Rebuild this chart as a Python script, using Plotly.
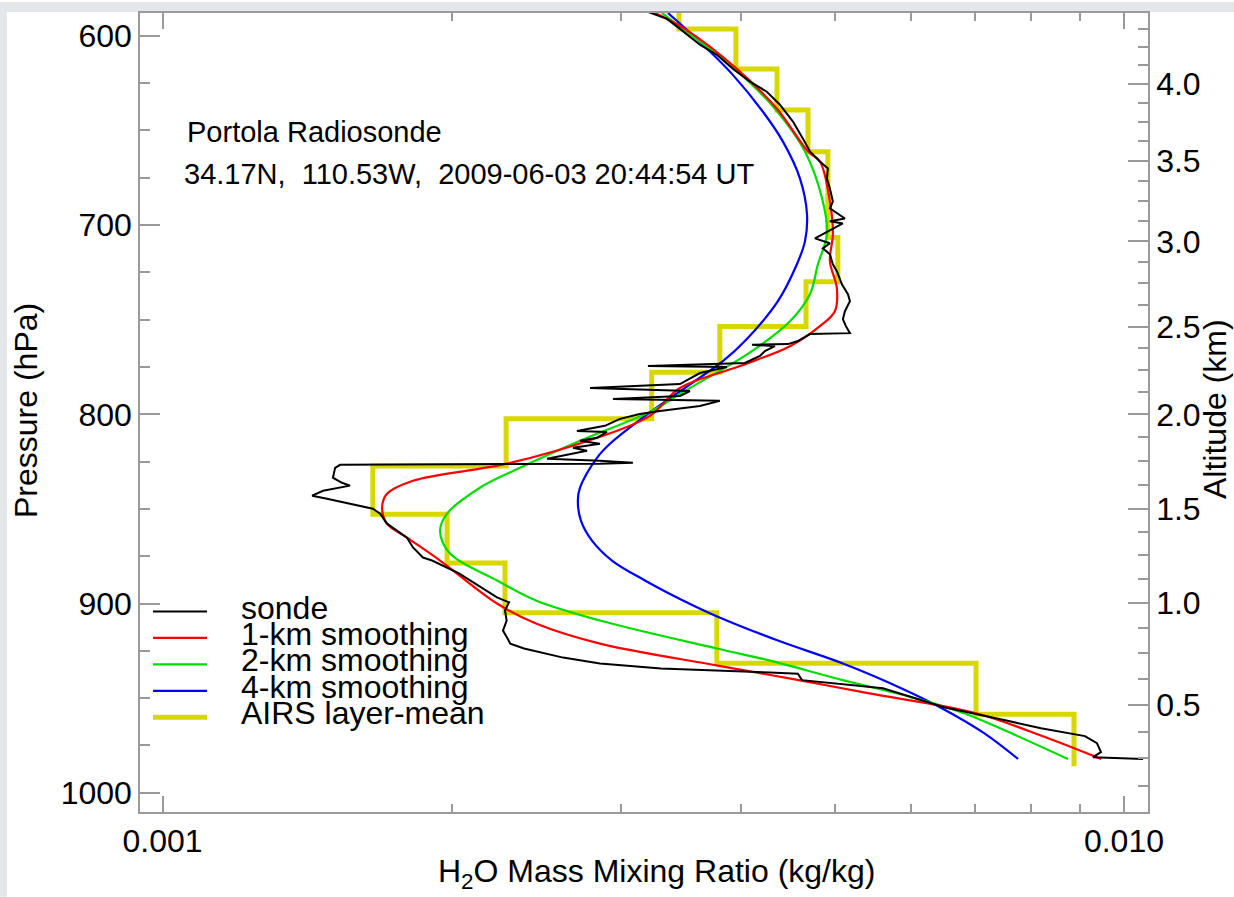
import numpy as np
import plotly.graph_objects as go

FONT = "Liberation Sans, Arial, Helvetica, sans-serif"
AXIS_GRAY = "#9a9a9a"

# ---- Radiosonde profile (pressure in hPa, H2O mass mixing ratio in kg/kg) ----
sonde_p = [587.3, 591.0, 596.3, 600.5, 604.7, 610.0, 617.4, 624.2, 629.5, 636.4,
           645.3, 654.3, 661.1, 666.4, 670.1, 675.4, 680.7, 687.5, 691.2, 696.5,
           698.0, 699.1, 703.3, 707.0, 709.6, 712.3, 715.4, 720.7, 724.4, 731.3,
           736.5, 740.2, 745.5, 749.7, 753.4, 757.1, 757.6, 759.2, 761.3, 762.9,
           763.2, 764.0, 766.6, 769.2, 772.9, 774.5, 775.0, 778.2, 781.3, 784.0,
           786.1, 787.7, 790.3, 791.9, 792.9, 795.6, 798.2, 799.8, 802.4, 806.1,
           808.8, 809.3, 812.4, 814.0, 815.6, 817.7, 819.3, 820.9, 823.5, 824.6,
           825.6, 826.1, 826.7, 828.3, 833.5, 836.2, 837.7, 840.4, 843.0, 844.6,
           847.2, 849.9, 852.5, 857.8, 865.2, 870.4, 875.7, 877.3, 884.1, 896.8,
           899.4, 903.6, 909.0, 914.3, 918.0, 921.2, 923.8, 928.6, 931.7, 934.4,
           936.5, 937.1, 940.5, 944.8, 947.4, 954.8, 961.6, 965.9, 970.1, 973.8,
           978.5, 981.2, 982.2]
sonde_q = [0.003198, 0.003347, 0.003453, 0.003536, 0.003622, 0.003772, 0.003919, 0.004083, 0.004252, 0.004387,
           0.004526, 0.004636, 0.004714, 0.004828, 0.004921, 0.004910, 0.004945, 0.004980, 0.004945, 0.005126,
           0.004945, 0.005101, 0.004921, 0.004771, 0.004945, 0.004862, 0.004945, 0.004980, 0.005028, 0.005089,
           0.005163, 0.005188, 0.005126, 0.005101, 0.005138, 0.005188, 0.004714, 0.004658, 0.004580, 0.004472,
           0.004103, 0.004335, 0.004232, 0.004182, 0.004034, 0.003198, 0.003864, 0.003622, 0.003536, 0.003453,
           0.002784, 0.003536, 0.003453, 0.002941, 0.003799, 0.003622, 0.003291, 0.003137, 0.002991, 0.002885,
           0.002698, 0.002899, 0.002831, 0.002718, 0.002851, 0.002673, 0.002764, 0.002673, 0.002512, 0.002851,
           0.003085, 0.002851, 0.001530, 0.001512, 0.001504, 0.001537, 0.001567, 0.001469, 0.001431, 0.001483,
           0.001567, 0.001655, 0.001684, 0.001712, 0.001796, 0.001822, 0.001866, 0.001907, 0.002034, 0.002228,
           0.002293, 0.002271, 0.002280, 0.002260, 0.002282, 0.002300, 0.002377, 0.002610, 0.002851, 0.003299,
           0.004283, 0.004580, 0.004625, 0.005615, 0.005834, 0.006499, 0.007505, 0.008197, 0.009108, 0.009373,
           0.009464, 0.009285, 0.010470]

# ---- Vertically smoothed versions of the sonde profile ----
smooth1_p = [587.9, 596.3, 617.4, 638.5, 661.1, 666.4, 687.5, 704.9, 719.1, 733.4,
             745.5, 753.4, 764.0, 774.5, 786.1, 800.8, 812.4, 826.1, 835.1, 842.0,
             849.3, 857.8, 865.2, 877.3, 900.0, 910.6, 921.2, 932.8, 940.5, 947.4,
             958.0, 970.6, 982.2]
smooth1_q = [0.003252, 0.003494, 0.003957, 0.004356, 0.004692, 0.004828, 0.004945, 0.004980, 0.004945, 0.005028,
             0.005004, 0.004828, 0.004494, 0.003986, 0.003453, 0.003213, 0.002831, 0.002282, 0.001822, 0.001712,
             0.001692, 0.001712, 0.001796, 0.001944, 0.002228, 0.002446, 0.002851, 0.003780, 0.004590, 0.005416,
             0.007017, 0.008276, 0.009464]

smooth2_p = [587.9, 596.3, 617.4, 638.5, 661.1, 687.5, 704.9, 720.7, 736.5, 750.8,
             766.6, 789.2, 798.2, 814.0, 828.3, 838.8, 852.5, 861.5, 873.6, 887.8,
             898.4, 909.0, 923.8, 930.2, 940.5, 950.0, 958.0, 966.9, 982.2]
smooth2_q = [0.003307, 0.003478, 0.003938, 0.004335, 0.004658, 0.004862, 0.004910, 0.004805, 0.004714, 0.004494,
             0.004103, 0.003453, 0.003229, 0.002718, 0.002354, 0.002139, 0.001977, 0.001944, 0.001991, 0.002228,
             0.002446, 0.002851, 0.003772, 0.004283, 0.005101, 0.006062, 0.006818, 0.007505, 0.008746]

smooth4_p = [587.9, 603.2, 620.6, 640.1, 655.9, 675.4, 694.4, 708.6, 720.7, 740.2,
             761.3, 771.8, 786.1, 799.8, 815.6, 823.0, 838.8, 845.7, 856.2, 866.8,
             877.3, 887.8, 898.4, 906.3, 919.6, 931.7, 944.2, 954.8, 968.5, 982.2]
smooth4_q = [0.003355, 0.003622, 0.003919, 0.004212, 0.004419, 0.004603, 0.004681, 0.004658, 0.004569, 0.004366,
             0.004034, 0.003830, 0.003494, 0.003198, 0.002920, 0.002831, 0.002718, 0.002704, 0.002724, 0.002797,
             0.002934, 0.003175, 0.003478, 0.003754, 0.004366, 0.005101, 0.005834, 0.006437, 0.007153, 0.007760]

# ---- AIRS layer means on the AIRS standard pressure levels ----
airs_levels = [575.52, 596.31, 617.51, 639.14, 661.19, 683.67, 706.57, 729.89, 753.63,
               777.79, 802.37, 827.37, 852.79, 878.62, 904.87, 931.52, 958.59, 986.07]
airs_q = [0.003445, 0.003948, 0.004356, 0.004692, 0.004921, 0.004921, 0.005040, 0.004670,
          0.003799, 0.003227, 0.002277, 0.001655, 0.001977, 0.002271, 0.003772, 0.007017, 0.008872]

# ---- Axis ticks ----
p_major = [600, 700, 800, 900, 1000]
p_minor = [625, 650, 675, 725, 750, 775, 825, 850, 875, 925, 950, 975]
q_major = [0.001, 0.01]
q_major_text = ["0.001", "0.010"]
q_minor = [0.002, 0.003, 0.004, 0.005, 0.006, 0.007, 0.008, 0.009]
alt_major_km = [0.5, 1.0, 1.5, 2.0, 2.5, 3.0, 3.5, 4.0]
alt_major_hpa = [953.7, 899.8, 850.0, 800.0, 753.7, 708.6, 666.2, 625.3]
alt_minor_km = [0.125, 0.25, 0.375, 0.625, 0.75, 0.875, 1.125, 1.25, 1.375,
                1.625, 1.75, 1.875, 2.125, 2.25, 2.375, 2.625, 2.75, 2.875,
                3.125, 3.25, 3.375, 3.625, 3.75, 3.875, 4.125, 4.25, 4.375]

P_RANGE = [1010.2, 587.9]
LOGQ_RANGE = [-3.0234, -1.975]


def altitude_to_pressure(z_km):
    """Log-pressure interpolation between the labelled altitude levels."""
    zs = np.asarray(alt_major_km)
    lp = np.log(np.asarray(alt_major_hpa))
    z = np.asarray(z_km, dtype=float)
    out = np.interp(z, zs, lp)
    lo = z < zs[0]
    hi = z > zs[-1]
    out[lo] = lp[0] + (lp[1] - lp[0]) / (zs[1] - zs[0]) * (z[lo] - zs[0])
    out[hi] = lp[-1] + (lp[-1] - lp[-2]) / (zs[-1] - zs[-2]) * (z[hi] - zs[-1])
    return np.exp(out)


# staircase outline of the layer means
airs_x, airs_y = [], []
for i, q in enumerate(airs_q):
    airs_x += [q, q]
    airs_y += [airs_levels[i], airs_levels[i + 1]]

YELLOW = "#d8d800"
RED = "#ff0000"
GREEN = "#00dd00"
BLUE = "#0000ff"

fig = go.Figure()
fig.add_trace(go.Scatter(x=airs_x, y=airs_y, mode="lines", name="AIRS layer-mean",
                         line=dict(color=YELLOW, width=5), showlegend=False))
fig.add_trace(go.Scatter(x=smooth4_q, y=smooth4_p, mode="lines", name="4-km smoothing",
                         line=dict(color=BLUE, width=2.2, shape="spline", smoothing=1.0),
                         showlegend=False))
fig.add_trace(go.Scatter(x=smooth2_q, y=smooth2_p, mode="lines", name="2-km smoothing",
                         line=dict(color=GREEN, width=2.2, shape="spline", smoothing=1.0),
                         showlegend=False))
fig.add_trace(go.Scatter(x=smooth1_q, y=smooth1_p, mode="lines", name="1-km smoothing",
                         line=dict(color=RED, width=2.2, shape="spline", smoothing=1.0),
                         showlegend=False))
# sonde drawn on the altitude axis (same pressure range) so that axis is active
fig.add_trace(go.Scatter(x=sonde_q, y=sonde_p, mode="lines", name="sonde", yaxis="y2",
                         line=dict(color="black", width=2), showlegend=False))

W, H = 1234, 897
L, R, T, B = 140, 86, 11, 85
PW, PH = W - L - R, H - T - B


def px(xpix):
    return (xpix - L) / PW


def py(ypix):
    return (H - B - ypix) / PH


tick_font = dict(family=FONT, size=32, color="black")

fig.update_layout(
    width=W, height=H,
    margin=dict(l=L, r=R, t=T, b=B, pad=0),
    paper_bgcolor="white", plot_bgcolor="white",
    showlegend=False,
    xaxis=dict(type="log", range=LOGQ_RANGE, autorange=False,
               tickmode="array", tickvals=q_major, ticktext=q_major_text,
               ticks="inside", ticklen=16, tickwidth=1.5, tickcolor=AXIS_GRAY,
               showline=True, linecolor=AXIS_GRAY, linewidth=1.5, mirror="ticks",
               showgrid=False, zeroline=False, tickfont=tick_font,
               minor=dict(tickmode="array", tickvals=q_minor, ticks="inside", ticklen=8,
                          tickwidth=1.5, tickcolor=AXIS_GRAY, showgrid=False)),
    yaxis=dict(range=P_RANGE, autorange=False,
               tickmode="array", tickvals=p_major, ticktext=[str(v) for v in p_major],
               ticks="inside", ticklen=20, tickwidth=1.5, tickcolor=AXIS_GRAY,
               showline=True, linecolor=AXIS_GRAY, linewidth=1.5, mirror=False,
               showgrid=False, zeroline=False, tickfont=tick_font,
               minor=dict(tickmode="array", tickvals=p_minor, ticks="inside", ticklen=10,
                          tickwidth=1.5, tickcolor=AXIS_GRAY, showgrid=False)),
    yaxis2=dict(overlaying="y", side="right", range=P_RANGE, autorange=False,
                tickmode="array", tickvals=list(altitude_to_pressure(alt_major_km)),
                ticktext=[f"{z:.1f}" for z in alt_major_km],
                ticks="inside", ticklen=20, tickwidth=1.5, tickcolor=AXIS_GRAY,
                showline=True, linecolor=AXIS_GRAY, linewidth=1.5,
                showgrid=False, zeroline=False, tickfont=tick_font,
                minor=dict(tickmode="array", tickvals=list(altitude_to_pressure(alt_minor_km)),
                           ticks="inside", ticklen=10, tickwidth=1.5,
                           tickcolor=AXIS_GRAY, showgrid=False)),
)

# faded slide background along the left and top edges
BG = "#e3e7ec"
fig.add_shape(type="rect", xref="paper", yref="paper", x0=px(0), x1=px(7), y0=py(H), y1=py(0),
              fillcolor=BG, line_width=0, layer="below")
fig.add_shape(type="rect", xref="paper", yref="paper", x0=px(0), x1=px(W), y0=py(10), y1=py(0),
              fillcolor=BG, line_width=0, layer="below")

annotations = [
    dict(text="Portola Radiosonde", x=px(185), y=py(130), xanchor="left", yanchor="middle",
         font=dict(family=FONT, size=29, color="black")),
    dict(text="34.17N,\u00a0 110.53W,\u00a0 2009-06-03 20:44:54 UT", x=px(182), y=py(172),
         xanchor="left", yanchor="middle", font=dict(family=FONT, size=29, color="black")),
    dict(text="H<sub>2</sub>O Mass Mixing Ratio (kg/kg)", x=px(656), y=py(874),
         xanchor="center", yanchor="middle", font=dict(family=FONT, size=32, color="black")),
    dict(text="Pressure (hPa)", x=px(26), y=py(410), textangle=-90,
         xanchor="center", yanchor="middle", font=dict(family=FONT, size=32, color="black")),
    dict(text="Altitude (km)", x=px(1215), y=py(408), textangle=-90,
         xanchor="center", yanchor="middle", font=dict(family=FONT, size=32, color="black")),
]

# legend drawn as line samples with labels, packed tightly
legend_items = [("sonde", "black", 2), ("1-km smoothing", RED, 2.2), ("2-km smoothing", GREEN, 2.2),
                ("4-km smoothing", BLUE, 2.2), ("AIRS layer-mean", YELLOW, 5)]
legend_y0, legend_dy = 611, 26.5
for k, (label, color, width) in enumerate(legend_items):
    yk = legend_y0 + k * legend_dy
    fig.add_shape(type="line", xref="paper", yref="paper", x0=px(153), x1=px(207),
                  y0=py(yk), y1=py(yk), line=dict(color=color, width=width))
    annotations.append(dict(text=label, x=px(239), y=py(yk - 4), xanchor="left", yanchor="middle",
                            font=dict(family=FONT, size=32, color="black")))

for a in annotations:
    a.update(xref="paper", yref="paper", showarrow=False)
fig.update_layout(annotations=annotations)

fig.write_html("out.html")
